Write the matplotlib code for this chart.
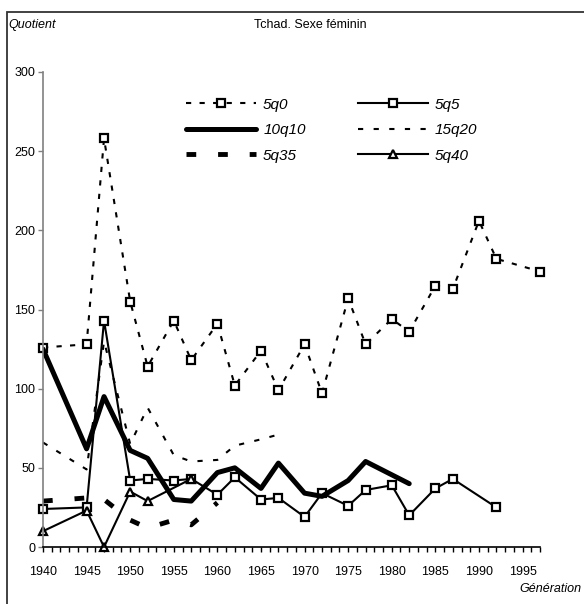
import matplotlib
matplotlib.use("Agg")
import matplotlib.pyplot as plt
from matplotlib.patches import Rectangle

plt.rcParams['font.family'] = ['Liberation Sans', 'DejaVu Sans']

# data
years_5q0 = [1940, 1945, 1947, 1950, 1952, 1955, 1957, 1960, 1962, 1965, 1967,
             1970, 1972, 1975, 1977, 1980, 1982, 1985, 1987, 1990, 1992, 1997]
q5q0 = [126, 128, 258, 155, 114, 143, 118, 141, 102, 124, 99,
        128, 97, 157, 128, 144, 136, 165, 163, 206, 182, 174]

years_5q5 = [1940, 1945, 1947, 1950, 1952, 1955, 1957, 1960, 1962, 1965, 1967,
             1970, 1972, 1975, 1977, 1980, 1982, 1985, 1987, 1992]
q5q5 = [24, 25, 143, 42, 43, 42, 43, 33, 44, 30, 31,
        19, 34, 26, 36, 39, 20, 37, 43, 25]

years_10q10 = [1940, 1945, 1947, 1950, 1952, 1955, 1957, 1960, 1962, 1965, 1967,
               1970, 1972, 1975, 1977, 1982]
q10q10 = [125, 62, 95, 61, 56, 30, 29, 47, 50, 37, 53,
          34, 32, 42, 54, 40]

years_15q20 = [1940, 1945, 1947, 1950, 1952, 1955, 1957, 1960, 1962, 1965, 1967]
q15q20 = [66, 49, 130, 65, 88, 58, 54, 55, 64, 68, 71]

years_5q35 = [1940, 1945, 1947, 1950, 1952, 1955, 1957, 1960]
q5q35 = [29, 31, 30, 17, 12, 17, 14, 28]

years_5q40 = [1940, 1945, 1947, 1950, 1952, 1957]
q5q40 = [10, 23, 0, 35, 29, 43]

xticks = list(range(1940, 1996, 5))
yticks = [0, 50, 100, 150, 200, 250, 300]

fig = plt.figure(figsize=(5.84, 6.04), dpi=100)
ax = fig.add_axes([43 / 584, 57 / 604, 497 / 584, 475 / 604])

mk = dict(markersize=5.5, markerfacecolor='white', markeredgecolor='black',
          markeredgewidth=1.6, clip_on=False)

l0, = ax.plot(years_5q0, q5q0, color='black', lw=1.5, linestyle=(0, (2.5, 4)),
              marker='s', label='5q0', **mk)
l5, = ax.plot(years_5q5, q5q5, color='black', lw=1.5, marker='s', label='5q5', **mk)
l10, = ax.plot(years_10q10, q10q10, color='black', lw=3.6, label='10q10',
               solid_capstyle='round', solid_joinstyle='round')
l20, = ax.plot(years_15q20, q15q20, color='black', lw=1.5, linestyle=(0, (2.5, 5)),
               label='15q20')
l35, = ax.plot(years_5q35, q5q35, color='black', lw=3.5, linestyle=(0, (2, 4.5)),
               label='5q35')
l40, = ax.plot(years_5q40, q5q40, color='black', lw=1.5, marker='^', label='5q40', **mk)

ax.set_xlim(1940, 1997)
ax.set_ylim(0, 300)
ax.set_xticks(xticks)
ax.set_xticks(range(1940, 1998), minor=True)
ax.set_yticks(yticks)
ax.tick_params(axis='both', labelsize=9, length=3.5, width=1, direction='out')
ax.tick_params(axis='x', which='both', length=3.5, width=1, pad=10)
ax.tick_params(axis='y', colors='#808080', labelcolor='black', pad=2)
ax.spines['top'].set_visible(False)
ax.spines['right'].set_visible(False)
ax.spines['left'].set_color('#808080')
ax.spines['left'].set_linewidth(1.2)
ax.spines['bottom'].set_linewidth(1.2)

# legend filled row by row like the original
handles = [l0, l10, l35, l5, l20, l40]
ax.legend(handles=handles, labels=[h.get_label() for h in handles],
          ncol=2, loc='upper left', bbox_to_anchor=(0.26, 0.975),
          frameon=False, handlelength=4.6, columnspacing=3.4,
          handletextpad=0.45, labelspacing=0.75,
          prop={'style': 'italic', 'size': 11})

fig.text(8 / 584, 1 - 25 / 604, 'Quotient', style='italic', fontsize=9,
         va='center', ha='left')
fig.text(310 / 584, 1 - 25 / 604, 'Tchad. Sexe féminin', fontsize=9,
         va='center', ha='center')
fig.text(582 / 584, 1 - 589 / 604, 'Génération', style='italic', fontsize=9,
         va='center', ha='right')

fig.patches.append(Rectangle((7 / 584, -0.1), 1.2, 1 - 12 / 604 + 0.1,
                             transform=fig.transFigure, fill=False,
                             edgecolor='#333333', linewidth=1.3))

fig.savefig('out.png', dpi=100)
